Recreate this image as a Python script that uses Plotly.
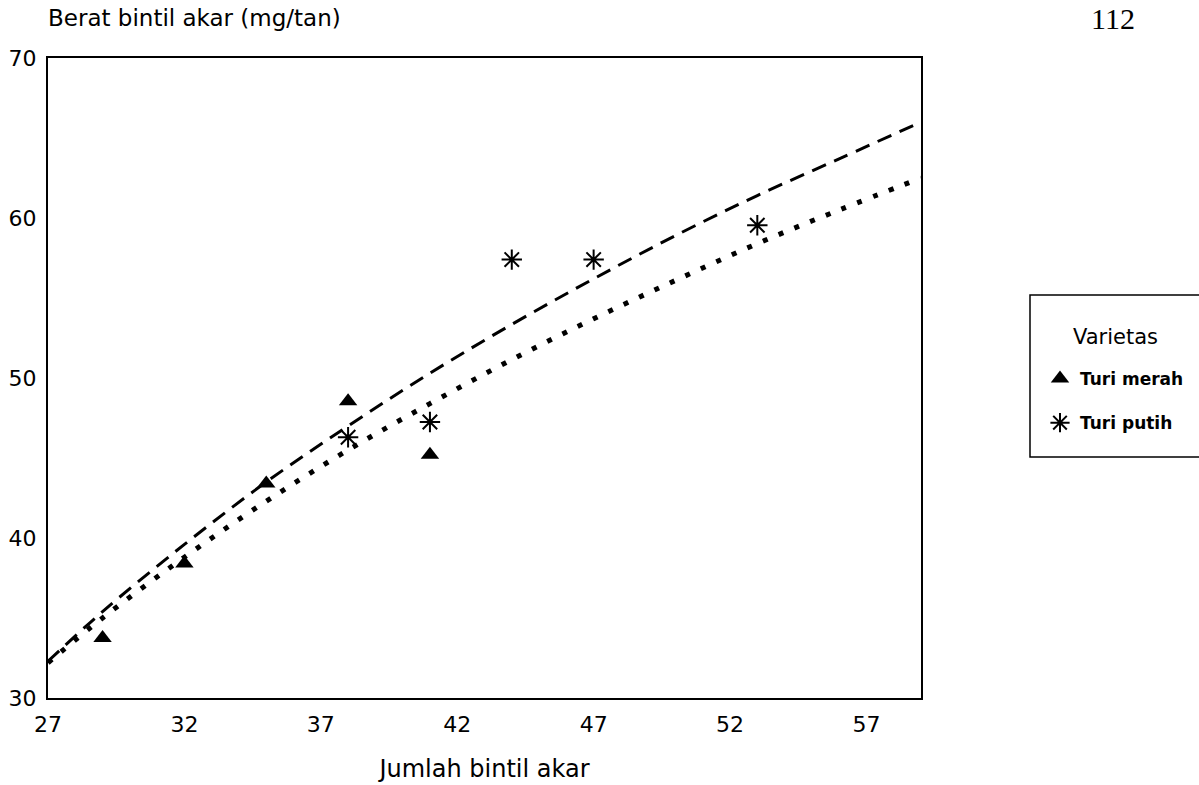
import plotly.graph_objects as go

# ---- data ----
x_merah = [29, 32, 35, 38, 41]
y_merah = [33.75, 38.4, 43.4, 48.55, 45.2]

x_putih = [38, 41, 44, 47, 53]
y_putih = [46.3, 47.25, 57.4, 57.4, 59.55]

x_trend = [27, 29, 32, 35, 38, 41, 44, 47, 50, 53, 56, 59]
y_trend_dash = [32.3, 35.4, 39.6, 43.5, 47.0, 50.3, 53.35, 56.2, 58.9, 61.4, 63.7, 66.0]
y_trend_dot = [32.2, 35.0, 38.8, 42.3, 45.5, 48.4, 51.15, 53.7, 56.1, 58.4, 60.5, 62.5]

x_ticks = [27, 32, 37, 42, 47, 52, 57]
y_ticks = [30, 40, 50, 60, 70]

FONT = "DejaVu Sans"

# plot-area geometry in pixels (used only for placing annotations/legend)
W, H = 1199, 785
L, R, T, B = 48, 921, 58, 698


def px_x(p):
    return (p - L) / (R - L)


def px_y(p):
    return (B - p) / (B - T)


fig = go.Figure()

fig.add_trace(go.Scatter(
    x=x_trend, y=y_trend_dash, mode="lines", line_shape="spline",
    line=dict(color="black", width=3, dash="15px,9px"),
    showlegend=False, hoverinfo="skip"))
fig.add_trace(go.Scatter(
    x=x_trend, y=y_trend_dot, mode="lines", line_shape="spline",
    line=dict(color="black", width=5, dash="5px,12px"),
    showlegend=False, hoverinfo="skip"))

fig.add_trace(go.Scatter(
    x=x_merah, y=y_merah, mode="markers", name="Turi merah",
    legendgroup="a",
    marker=dict(symbol="triangle-up", size=16, color="black")))
fig.add_trace(go.Scatter(
    x=x_putih, y=y_putih, mode="markers", name="Turi putih",
    legendgroup="b",
    marker=dict(symbol="asterisk-open", size=17,
                line=dict(color="black", width=2), color="black")))

axis_common = dict(
    showline=True, mirror=True, linecolor="black", linewidth=2,
    showgrid=False, zeroline=False, ticks="", automargin=False,
    tickfont=dict(family=FONT, size=22, color="black"),
)

fig.update_layout(
    width=W, height=H,
    margin=dict(l=L, r=W - R, t=T, b=H - B, autoexpand=False),
    paper_bgcolor="white", plot_bgcolor="white",
    font=dict(family=FONT, color="black"),
    xaxis=dict(range=[27, 59], tickvals=x_ticks,
               ticktext=[str(v) for v in x_ticks],
               ticklabelstandoff=6,
               title=dict(text="Jumlah bintil akar",
                          font=dict(family=FONT, size=24, color="black"),
                          standoff=24),
               **axis_common),
    yaxis=dict(range=[30, 70], tickvals=y_ticks,
               ticktext=[str(v) for v in y_ticks],
               ticklabelstandoff=5,
               **axis_common),
    legend=dict(
        x=px_x(1040), xanchor="left", y=px_y(361), yanchor="top",
        font=dict(family=FONT, size=17, color="black", weight="bold"),
        bgcolor="rgba(0,0,0,0)", borderwidth=0,
        traceorder="grouped", tracegroupgap=19, itemsizing="trace"),
    shapes=[dict(type="rect", xref="paper", yref="paper",
                 x0=px_x(1030), x1=px_x(1215), y0=px_y(457), y1=px_y(295),
                 line=dict(color="black", width=1.5))],
    annotations=[
        dict(text="Varietas", xref="paper", yref="paper",
             x=px_x(1115), y=px_y(337), xanchor="center", yanchor="middle",
             showarrow=False, font=dict(family=FONT, size=21, color="black")),
        dict(text="Berat bintil akar (mg/tan)", xref="paper", yref="paper",
             x=px_x(46), y=px_y(18), xanchor="left", yanchor="middle",
             showarrow=False, font=dict(family=FONT, size=23, color="black")),
        dict(text="112", xref="paper", yref="paper",
             x=px_x(1113), y=px_y(18), xanchor="center", yanchor="middle",
             showarrow=False,
             font=dict(family="Liberation Serif", size=30, color="black")),
    ],
)

fig.write_html("out.html")
